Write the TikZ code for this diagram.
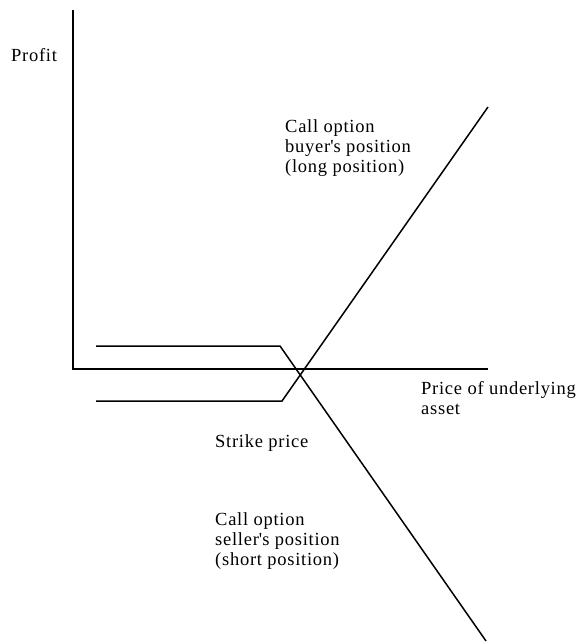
\documentclass[tikz,border=0pt]{standalone}
\usepackage{fontspec}
\setmainfont{Liberation Serif}[LetterSpace=4]
\begin{document}
\begin{tikzpicture}[x=1pt,y=-1pt,
  curve/.style={line width=1.5pt,line join=miter},
  axis/.style={line width=1.5pt},
  lbl/.style={anchor=base west,inner sep=0pt,font=\fontsize{18.5}{20}\selectfont}]
\useasboundingbox (0,0) rectangle (580,644);
% axes
\coordinate (ytop) at (73,10);
\coordinate (orig) at (73,369);
\coordinate (xend) at (488,369);
\draw[axis] (ytop) -- (orig) -- (xend);
% long position
\coordinate (l1) at (96,401);
\coordinate (l2) at (282,401);
\coordinate (l3) at (488,107);
\draw[curve] (l1) -- (l2) -- (l3);
% short position
\coordinate (s1) at (96,346);
\coordinate (s2) at (280,346);
\coordinate (s3) at (486,641);
\draw[curve] (s1) -- (s2) -- (s3);
% labels
\node[lbl] (profit) at (11,62) {Profit};
\node[lbl] (b1) at (285,133) {Call option};
\node[lbl] (b2) at (285,153) {buyer\textquotesingle s position};
\node[lbl] (b3) at (285,173) {(long position)};
\node[lbl] (p1) at (421,394) {Price of underlying};
\node[lbl] (p2) at (421,414) {asset};
\node[lbl] (strike) at (215,447) {Strike price};
\node[lbl] (s1t) at (215,525) {Call option};
\node[lbl] (s2t) at (215,545) {seller\textquotesingle s position};
\node[lbl] (s3t) at (215,565) {(short position)};
\end{tikzpicture}
\end{document}
